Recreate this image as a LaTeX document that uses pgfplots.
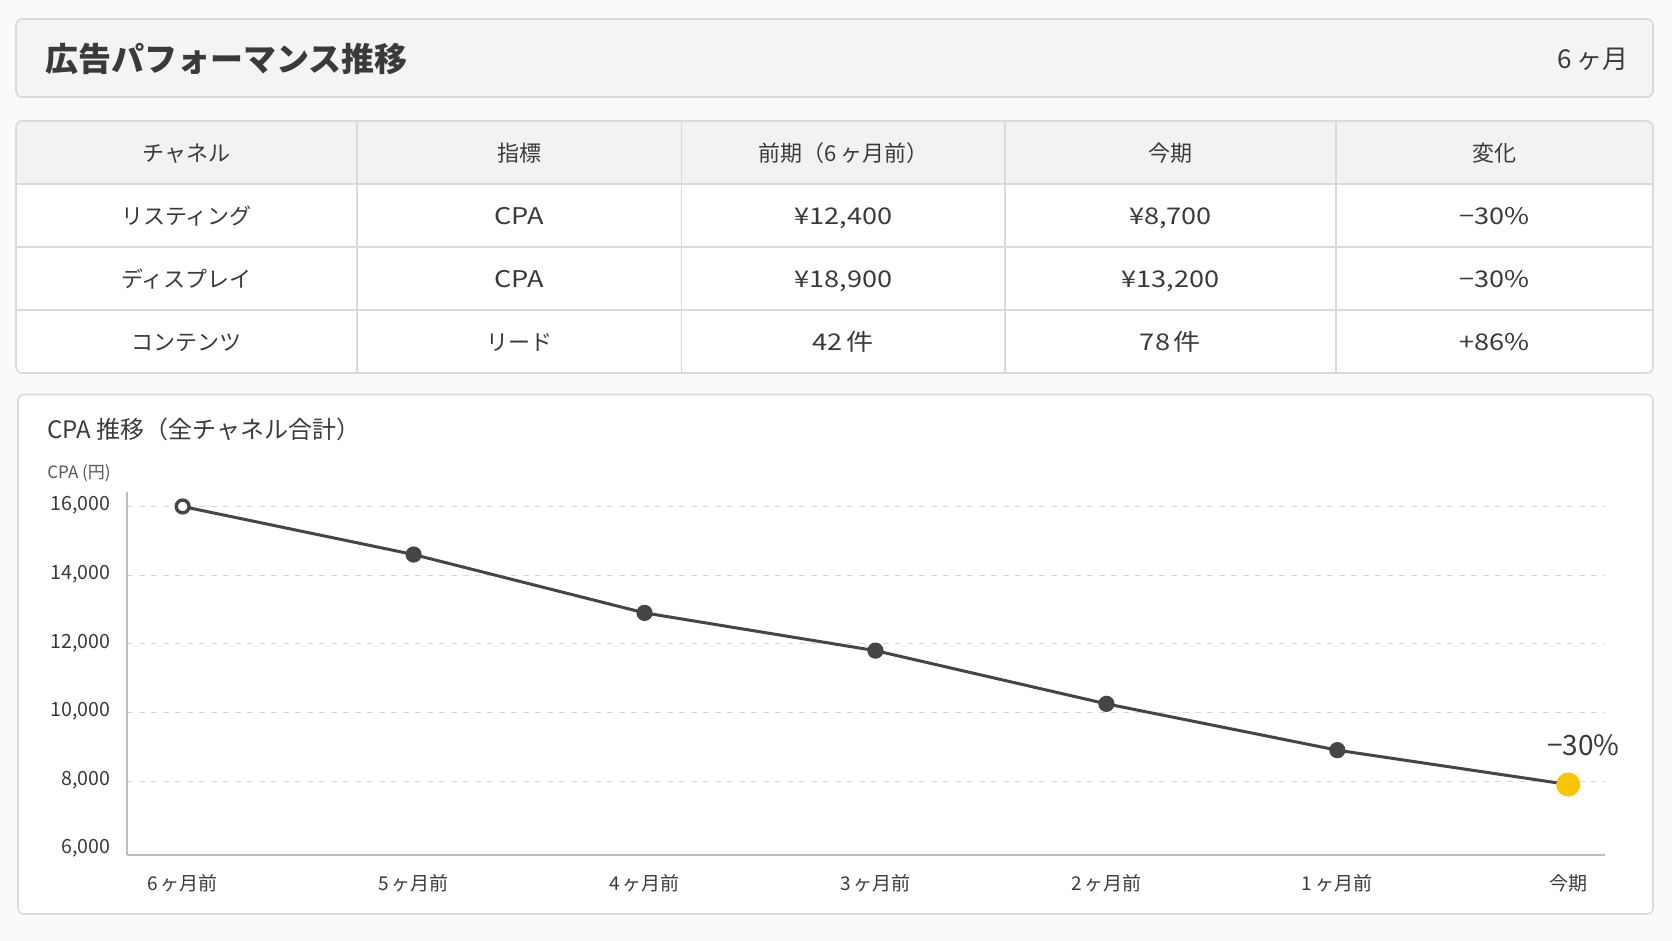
\documentclass[border=0pt]{standalone}
\usepackage{fontspec}
\setmainfont{Noto Sans CJK JP}
\usepackage{pgfplots}
\usepackage{pgfplotstable}
\pgfplotsset{compat=1.18}
\definecolor{pagebg}{HTML}{FAFAFA}
\definecolor{boxbg}{HTML}{F4F4F4}
\definecolor{hdrbg}{HTML}{F2F2F2}
\definecolor{bord}{HTML}{DADADA}
\definecolor{txt}{HTML}{3A3A3A}
\definecolor{linec}{HTML}{454545}
\definecolor{gold}{HTML}{F7C600}
\definecolor{axc}{HTML}{BDBDBD}
\definecolor{gridc}{HTML}{D8D8D8}
\pgfplotstableread{
x y
0 16000
1 14600
2 12900
3 11800
4 10250
5 8900
6 7900
}\cpadata
\begin{document}
\begin{tikzpicture}
\begin{scope}[x=0.5pt,y=-0.5pt]
\path[fill=pagebg, use as bounding box] (0,0) rectangle (1672,941);
% header box
\draw[bord, fill=boxbg, rounded corners=3pt, line width=0.8pt] (16,19) rectangle (1653,97);
\node[anchor=west, text=txt, font=\fontsize{16.5}{18}\selectfont\bfseries, inner sep=0pt] at (45,59) {広告パフォーマンス推移};
\node[anchor=east, text=txt, font=\fontsize{13}{15}\selectfont, inner sep=0pt] at (1629,59) {6\,ヶ月};
% table
\fill[white, rounded corners=3pt] (16,121) rectangle (1653,373);
\begin{scope}
\clip[rounded corners=3pt] (16,121) rectangle (1653,373);
\fill[hdrbg] (16,121) rectangle (1653,184);
\end{scope}
\draw[bord, line width=0.6pt] (16,184)--(1653,184) (16,247)--(1653,247) (16,310)--(1653,310);
\draw[bord, line width=0.6pt] (357,121)--(357,373) (681.5,121)--(681.5,373) (1005,121)--(1005,373) (1336,121)--(1336,373);
\draw[bord, line width=0.8pt, rounded corners=3pt] (16,121) rectangle (1653,373);
\tikzset{cell/.style={anchor=center, text=txt, inner sep=0pt, text height=8pt, text depth=2.2pt, font=\fontsize{11}{13}\selectfont},
  cellL/.style={cell, font=\fontsize{11.5}{13}\selectfont\addfontfeature{FakeStretch=1.18}}}
% header row
\node[cell] at (186.5,156) {チャネル};
\node[cell] at (519.25,156) {指標};
\node[cell] at (843.25,156) {前期（6\,ヶ月前）};
\node[cell] at (1170.5,156) {今期};
\node[cell] at (1494.5,156) {変化};
% rows
\node[cell] at (186.5,219) {リスティング};
\node[cellL] at (519.25,219) {CPA};
\node[cellL] at (843.25,219) {¥12,400};
\node[cellL] at (1170.5,219) {¥8,700};
\node[cellL] at (1494.5,219) {−30\%};
\node[cell] at (186.5,282) {ディスプレイ};
\node[cellL] at (519.25,282) {CPA};
\node[cellL] at (843.25,282) {¥18,900};
\node[cellL] at (1170.5,282) {¥13,200};
\node[cellL] at (1494.5,282) {−30\%};
\node[cell] at (186.5,345) {コンテンツ};
\node[cell] at (519.25,345) {リード};
\node[cellL] at (843.25,345) {42\,件};
\node[cellL] at (1170.5,345) {78\,件};
\node[cellL] at (1494.5,345) {+86\%};
% chart card
\draw[bord, fill=white, rounded corners=3pt, line width=0.8pt] (18,394.5) rectangle (1653,914);
\node[anchor=west, text=txt, inner sep=0pt, font=\fontsize{12}{14}\selectfont] at (47,429.5) {CPA 推移（全チャネル合計）};
\node[anchor=west, text=txt!85, inner sep=0pt, font=\fontsize{8.5}{10}\selectfont] at (47,473) {CPA (円)};
\end{scope}
\begin{axis}[
  at={(63.5pt,-427.5pt)}, anchor=south west,
  scale only axis, width=739pt, height=181.5pt,
  xmin=-0.241, xmax=6.159, ymin=5846, ymax=16422,
  axis lines*=left,
  axis line style={draw=axc, line width=0.9pt},
  ytick={8000,10000,12000,14000,16000},
  extra y ticks={6000},
  extra y tick style={grid=none},
  xtick={0,1,2,3,4,5,6},
  xticklabels={6\,ヶ月前,5\,ヶ月前,4\,ヶ月前,3\,ヶ月前,2\,ヶ月前,1\,ヶ月前,今期},
  major tick length=0pt,
  ymajorgrids,
  grid style={dashed, draw=gridc, line width=0.5pt},
  /pgf/number format/assume math mode=true,
  /pgf/number format/1000 sep={,},
  scaled y ticks=false,
  yticklabel style={text=txt, font=\fontsize{9.8}{11}\selectfont, inner sep=0pt, xshift=-8pt, yshift=0.5pt},
  xticklabel style={text=txt, font=\fontsize{9.5}{11}\selectfont, inner sep=0pt, yshift=-9.5pt},
  clip=false,
]
\addplot[color=linec, line width=1.5pt, mark=*, mark size=3.3pt, mark options={fill=linec, draw=linec}] table[x=x,y=y] {\cpadata};
\addplot[only marks, mark=*, mark size=3pt, mark options={fill=white, draw=linec, line width=1.3pt}] coordinates {(0,16000)};
\addplot[only marks, mark=*, mark size=5.8pt, color=gold, mark options={fill=gold, draw=gold}] coordinates {(6,7900)};
\node[text=txt, font=\fontsize{14}{16}\selectfont, inner sep=0pt] at (axis cs:6,7900) [xshift=7.5pt, yshift=19.5pt] {−30\%};
\end{axis}
\end{tikzpicture}
\end{document}
